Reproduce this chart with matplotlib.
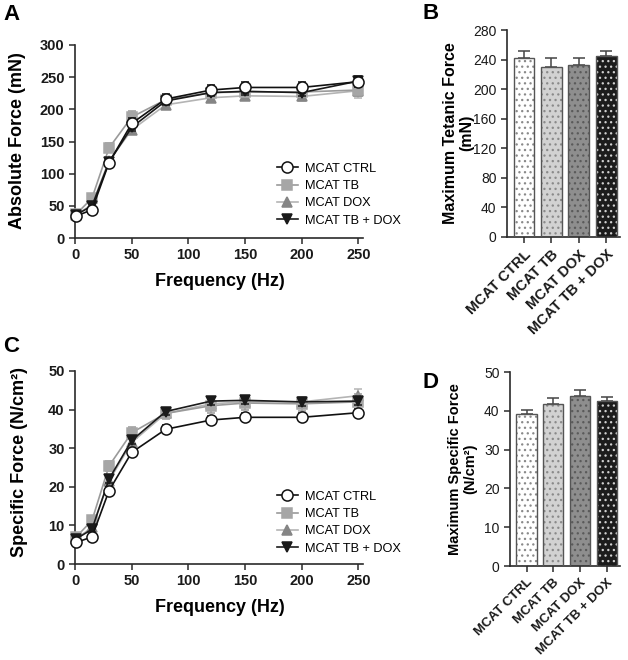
import numpy as np
import matplotlib.pyplot as plt

plt.rcParams['font.family'] = ['Liberation Sans', 'DejaVu Sans']
plt.rcParams['hatch.linewidth'] = 0.9

# --- Data ---
freq = [1, 15, 30, 50, 80, 120, 150, 200, 250]
groups = ['MCAT CTRL', 'MCAT TB', 'MCAT DOX', 'MCAT TB + DOX']

# absolute force (mN)
abs_ctrl = [34, 44, 117, 178, 216, 230, 234, 234, 243]
abs_tb = [37, 62, 140, 188, 215, 226, 227, 227, 230]
abs_dox = [36, 52, 120, 168, 207, 218, 221, 220, 229]
abs_tbdox = [36, 50, 118, 172, 213, 226, 228, 226, 244]
abs_ctrl_err = [3, 3, 6, 8, 8, 8, 9, 9, 8]
abs_tb_err = [3, 5, 7, 9, 8, 7, 8, 7, 10]
abs_dox_err = [3, 4, 5, 6, 6, 7, 7, 7, 12]
abs_tbdox_err = [3, 4, 5, 6, 7, 6, 6, 6, 8]

# specific force (N/cm2)
spec_ctrl = [5.6, 7.0, 19.0, 28.9, 34.9, 37.3, 38.0, 38.0, 39.2]
spec_tb = [7.0, 11.3, 25.4, 34.0, 39.0, 41.0, 41.7, 41.5, 42.0]
spec_dox = [6.5, 9.5, 21.5, 31.5, 39.0, 41.5, 42.0, 42.0, 43.6]
spec_tbdox = [6.5, 9.0, 22.0, 32.0, 39.5, 42.2, 42.4, 42.0, 42.2]
spec_ctrl_err = [0.5, 0.5, 1.0, 1.0, 1.0, 1.0, 1.0, 1.0, 1.0]
spec_tb_err = [0.8, 1.0, 1.2, 1.5, 1.5, 1.8, 1.8, 1.8, 2.0]
spec_dox_err = [0.5, 0.8, 1.0, 1.2, 1.0, 1.2, 1.2, 1.2, 1.8]
spec_tbdox_err = [0.5, 0.8, 1.0, 1.0, 1.0, 1.0, 1.0, 1.0, 1.0]

# maximum values (bars)
max_tetanic = [242, 230, 232, 245]
max_tetanic_err = [10, 12, 10, 7]
max_specific = [39.3, 41.8, 43.8, 42.6]
max_specific_err = [1.0, 1.6, 1.6, 0.9]

# --- Styles ---
W, H = 628, 660
spine_col = '#2a2a2a'
line_styles = [
    dict(color='#111111', marker='o', mfc='white', mec='#111111', ms=8, zorder=6),
    dict(color='#9a9a9a', marker='s', mfc='#a6a6a6', mec='#a6a6a6', ms=7.5, zorder=4),
    dict(color='#b4b4b4', marker='^', mfc='#858585', mec='#858585', ms=7.5, zorder=3),
    dict(color='#1a1a1a', marker='v', mfc='#1a1a1a', mec='#1a1a1a', ms=7, zorder=5),
]
bar_faces = ['white', '#d2d2d2', '#8e8e8e', '#1c1c1c']
bar_hatch_cols = ['#8a8a8a', '#8a8a8a', '#5a5a5a', '#d0d0d0']

fig = plt.figure(figsize=(W / 100, H / 100), dpi=100)


def px_axes(l, t, r, b):
    return fig.add_axes([l / W, 1 - b / H, (r - l) / W, (b - t) / H])


def style_axes(ax, bold_ticks=True, tsize=10.5):
    for s in ['top', 'right']:
        ax.spines[s].set_visible(False)
    for s in ['left', 'bottom']:
        ax.spines[s].set_color(spine_col)
        ax.spines[s].set_linewidth(1.2)
    ax.tick_params(direction='out', length=4, width=1.1, color=spine_col,
                   labelsize=tsize, colors='#1a1a1a')
    if bold_ticks:
        for lb in ax.get_xticklabels() + ax.get_yticklabels():
            lb.set_fontweight('bold')


def line_panel(ax, series, errs, ylim, yticks, legend_top):
    for vals, err, lab, st in zip(series, errs, groups, line_styles):
        ax.errorbar(freq, vals, yerr=err, color=st['color'], lw=1.2,
                    marker=st['marker'], mfc=st['mfc'], mec=st['mec'],
                    ms=st['ms'], mew=1.1, capsize=3, elinewidth=1.1,
                    ecolor=st['color'], zorder=st['zorder'], label=lab,
                    clip_on=False)
    ax.set_xlim(0, 254)
    ax.set_ylim(*ylim)
    ax.set_xticks([0, 50, 100, 150, 200, 250])
    ax.set_yticks(yticks)
    style_axes(ax)
    h, l = ax.get_legend_handles_labels()
    h = [hh[0] for hh in h]
    ax.legend(h, l, loc='upper left', bbox_to_anchor=(0.70, legend_top),
              frameon=False, fontsize=9.2, handlelength=1.7, handletextpad=0.55,
              labelspacing=0.42, borderpad=0, borderaxespad=0)


def bar_panel(ax, vals, err, ylim, yticks, lsize):
    x = np.arange(len(vals))
    ax.bar(x, vals, width=0.76, color=bar_faces, edgecolor=bar_hatch_cols,
           linewidth=0, hatch='...', zorder=2)
    ax.bar(x, vals, width=0.76, fill=False, edgecolor='#555555',
           linewidth=1.0, zorder=3)
    ax.errorbar(x, vals, yerr=[np.zeros(len(vals)), err], fmt='none',
                ecolor='#444444', elinewidth=1.1, capsize=4, capthick=1.1,
                zorder=1)
    ax.set_xlim(-0.62, 3.5)
    ax.set_ylim(*ylim)
    ax.set_yticks(yticks)
    ax.set_xticks(x)
    ax.set_xticklabels(groups, rotation=45, ha='right',
                       rotation_mode='anchor')
    style_axes(ax, bold_ticks=False, tsize=10)
    for lb in ax.get_xticklabels():
        lb.set_fontweight('bold')
        lb.set_fontsize(lsize)


# --- Panel A ---
axA = px_axes(75, 45, 363, 238)
line_panel(axA, [abs_ctrl, abs_tb, abs_dox, abs_tbdox],
           [abs_ctrl_err, abs_tb_err, abs_dox_err, abs_tbdox_err],
           (0, 300), np.arange(0, 301, 50), 0.39)
fig.text(18 / W, 1 - 141 / H, 'Absolute Force (mN)', rotation=90,
         ha='center', va='center', fontsize=13, fontweight='bold')
fig.text(220 / W, 1 - 282 / H, 'Frequency (Hz)', ha='center', va='center',
         fontsize=13, fontweight='bold')

# --- Panel C ---
axC = px_axes(75, 371, 363, 564)
line_panel(axC, [spec_ctrl, spec_tb, spec_dox, spec_tbdox],
           [spec_ctrl_err, spec_tb_err, spec_dox_err, spec_tbdox_err],
           (0, 50), np.arange(0, 51, 10), 0.38)
fig.text(20 / W, 1 - 462 / H, 'Specific Force (N/cm²)', rotation=90,
         ha='center', va='center', fontsize=13, fontweight='bold')
fig.text(220 / W, 1 - 607 / H, 'Frequency (Hz)', ha='center', va='center',
         fontsize=13, fontweight='bold')

# --- Panel B ---
axB = px_axes(507, 30, 620, 237)
bar_panel(axB, max_tetanic, max_tetanic_err, (0, 280),
          np.arange(0, 281, 40), 10.5)
fig.text(459 / W, 1 - 133 / H, 'Maximum Tetanic Force\n(mN)', rotation=90,
         ha='center', va='center', fontsize=11.5, fontweight='bold',
         multialignment='center', linespacing=1.1)

# --- Panel D ---
axD = px_axes(510, 372, 620, 566)
bar_panel(axD, max_specific, max_specific_err, (0, 50),
          np.arange(0, 51, 10), 9.5)
fig.text(463 / W, 1 - 469 / H, 'Maximum Specific Force\n(N/cm²)', rotation=90,
         ha='center', va='center', fontsize=10.5, fontweight='bold',
         multialignment='center', linespacing=1.1)

# --- Panel letters ---
for lab, xp, yp in [('A', 3, 4), ('B', 422, 3), ('C', 3, 336), ('D', 422, 372)]:
    fig.text(xp / W, 1 - yp / H, lab, ha='left', va='top', fontsize=16,
             fontweight='bold')

fig.savefig('out.png', dpi=100)
